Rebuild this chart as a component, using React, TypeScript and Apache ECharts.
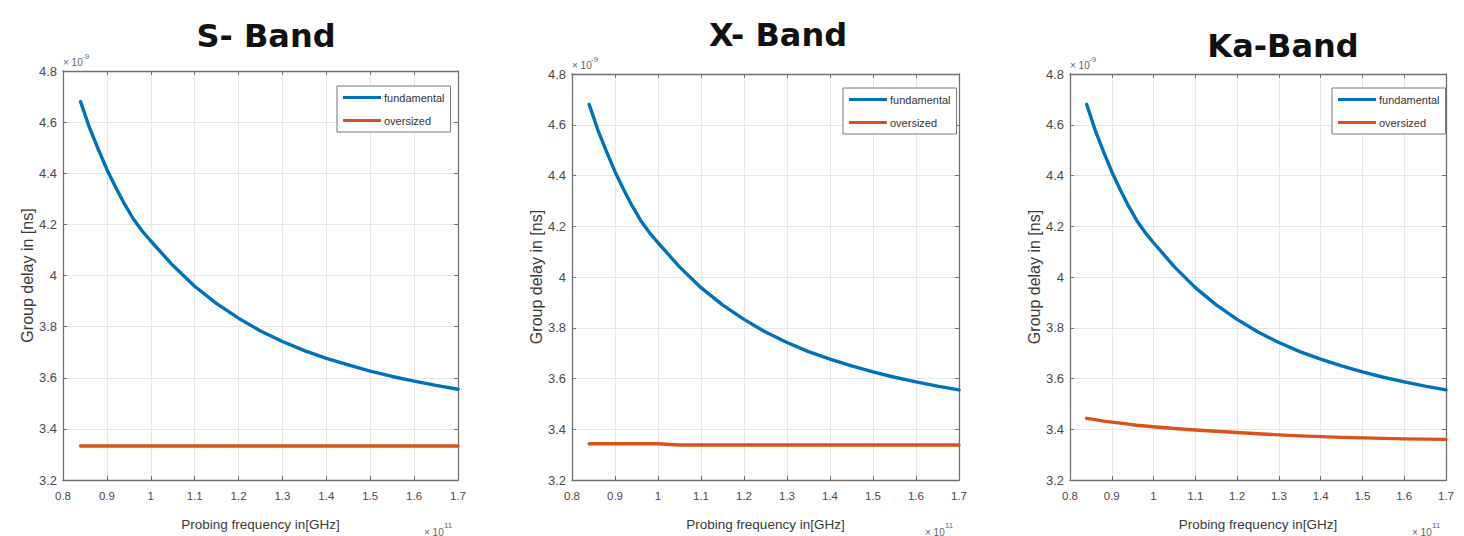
import React, { useEffect, useRef } from "react";
import * as echarts from "echarts";

// Probing frequency (×10^11 Hz)
const freqs = [0.84, 0.86, 0.88, 0.9, 0.92, 0.94, 0.96, 0.98, 1.0, 1.05, 1.1, 1.15, 1.2, 1.25, 1.3, 1.35, 1.4, 1.45, 1.5, 1.55, 1.6, 1.65, 1.7];
// Group delay (×10^-9 s)
const fundamentalS = [4.68, 4.58, 4.495, 4.415, 4.345, 4.28, 4.222, 4.175, 4.135, 4.04, 3.958, 3.89, 3.833, 3.783, 3.742, 3.706, 3.676, 3.65, 3.626, 3.605, 3.587, 3.57, 3.555];
const oversizedS = [3.333, 3.333, 3.333, 3.333, 3.333, 3.333, 3.333, 3.333, 3.333, 3.333, 3.333, 3.333, 3.333, 3.333, 3.333, 3.333, 3.333, 3.333, 3.333, 3.333, 3.333, 3.333, 3.333];
const fundamentalX = [4.68, 4.58, 4.495, 4.415, 4.345, 4.28, 4.222, 4.175, 4.135, 4.04, 3.958, 3.89, 3.833, 3.783, 3.742, 3.706, 3.676, 3.65, 3.626, 3.605, 3.587, 3.57, 3.555];
const oversizedX = [3.343, 3.343, 3.343, 3.343, 3.343, 3.343, 3.343, 3.343, 3.343, 3.338, 3.338, 3.338, 3.338, 3.338, 3.338, 3.338, 3.338, 3.338, 3.338, 3.338, 3.338, 3.338, 3.338];
const fundamentalKa = [4.68, 4.58, 4.495, 4.415, 4.345, 4.28, 4.222, 4.175, 4.135, 4.04, 3.958, 3.89, 3.833, 3.783, 3.742, 3.706, 3.676, 3.65, 3.626, 3.605, 3.587, 3.57, 3.555];
const oversizedKa = [3.443, 3.438, 3.432, 3.428, 3.424, 3.42, 3.416, 3.413, 3.41, 3.403, 3.397, 3.392, 3.387, 3.382, 3.378, 3.374, 3.371, 3.368, 3.366, 3.364, 3.362, 3.361, 3.36];

const panelTitles = ["S- Band", "X- Band", "Ka-Band"];
const seriesNames = ["fundamental", "oversized"];
const xAxisName = "Probing frequency in[GHz]";
const yAxisName = "Group delay in [ns]";

const BLUE = "#0072BD";
const ORANGE = "#D95319";
const AXIS = "#707070";
const TICKTXT = "#4a4a4a";
const NARROW = "'Liberation Sans Narrow', 'Liberation Sans', Arial, sans-serif";

const grids = [
  { left: 63, top: 71, width: 395, height: 415 },
  { left: 572, top: 74, width: 387, height: 412 },
  { left: 1070, top: 74, width: 376, height: 412 },
];
const titlePos = [
  { x: 266, y: 20 },
  { x: 778, y: 19 },
  { x: 1283, y: 30 },
];
const legendPos = [
  { left: 337, top: 86 },
  { left: 843, top: 88 },
  { left: 1332, top: 88 },
];

export default function App() {
  const ref = useRef<HTMLDivElement>(null);
  useEffect(() => {
    if (!ref.current) return;
    const chart = echarts.init(ref.current, null, { renderer: "svg" });
    const bands = [
      [fundamentalS, oversizedS],
      [fundamentalX, oversizedX],
      [fundamentalKa, oversizedKa],
    ];

    const xAxes: any[] = [];
    const yAxes: any[] = [];
    grids.forEach((_, i) => {
      xAxes.push({
        type: "value",
        gridIndex: i,
        min: 0.8,
        max: 1.7,
        interval: 0.1,
        position: "bottom",
        name: xAxisName,
        nameLocation: "middle",
        nameGap: 37,
        nameTextStyle: { fontFamily: NARROW, fontSize: 13.5, color: "#3a3a3a" },
        axisLine: { show: true, onZero: false, lineStyle: { color: AXIS, width: 1.3 } },
        axisTick: { show: true, inside: true, length: 4, lineStyle: { color: AXIS } },
        axisLabel: { margin: 10, fontFamily: NARROW, fontSize: 11.5, color: TICKTXT },
        splitLine: { show: true, lineStyle: { color: "#e6e6e6", width: 1 } },
      });
      yAxes.push({
        type: "value",
        gridIndex: i,
        min: 3.2,
        max: 4.8,
        interval: 0.2,
        position: "left",
        name: yAxisName,
        nameLocation: "middle",
        nameRotate: 90,
        nameGap: 26,
        nameTextStyle: { fontFamily: NARROW, fontSize: 16, color: "#3a3a3a" },
        axisLine: { show: true, onZero: false, lineStyle: { color: AXIS, width: 1.3 } },
        axisTick: { show: true, inside: true, length: 4, lineStyle: { color: AXIS } },
        axisLabel: { margin: 6, fontFamily: NARROW, fontSize: 13, color: TICKTXT },
        splitLine: { show: true, lineStyle: { color: "#e6e6e6", width: 1 } },
      });
    });
    grids.forEach((_, i) => {
      xAxes.push({
        type: "value",
        gridIndex: i,
        min: 0.8,
        max: 1.7,
        interval: 0.1,
        position: "top",
        axisLine: { show: true, onZero: false, lineStyle: { color: AXIS, width: 1.3 } },
        axisTick: { show: true, inside: true, length: 4, lineStyle: { color: AXIS } },
        axisLabel: { show: false },
        splitLine: { show: false },
      });
      yAxes.push({
        type: "value",
        gridIndex: i,
        min: 3.2,
        max: 4.8,
        interval: 0.2,
        position: "right",
        axisLine: { show: true, onZero: false, lineStyle: { color: AXIS, width: 1.3 } },
        axisTick: { show: true, inside: true, length: 4, lineStyle: { color: AXIS } },
        axisLabel: { show: false },
        splitLine: { show: false },
      });
    });

    const series: any[] = [];
    bands.forEach((vals, i) => {
      vals.forEach((arr, k) => {
        series.push({
          type: "line",
          name: seriesNames[k],
          xAxisIndex: i,
          yAxisIndex: i,
          data: freqs.map((f, j) => [f, arr[j]]),
          smooth: false,
          showSymbol: false,
          symbol: "none",
          lineStyle: { color: k === 0 ? BLUE : ORANGE, width: 3.4, join: "round", cap: "round" },
          itemStyle: { color: k === 0 ? BLUE : ORANGE },
          z: 3 + k,
        });
      });
    });

    const graphics: any[] = [];
    grids.forEach((g) => {
      graphics.push(
        { type: "text", x: g.left, y: g.top - 14, style: { text: "× 10", fontSize: 10, fill: "#666", fontFamily: NARROW } },
        { type: "text", x: g.left + 19, y: g.top - 19, style: { text: "-9", fontSize: 8, fill: "#666", fontFamily: NARROW } },
        { type: "text", x: g.left + g.width - 34, y: 527, style: { text: "× 10", fontSize: 10, fill: "#666", fontFamily: NARROW } },
        { type: "text", x: g.left + g.width - 14, y: 521, style: { text: "11", fontSize: 8, fill: "#666", fontFamily: NARROW } }
      );
    });

    chart.setOption({
      animation: false,
      backgroundColor: "#ffffff",
      title: panelTitles.map((t, i) => ({
        text: t,
        left: titlePos[i].x,
        top: titlePos[i].y,
        textAlign: "center",
        padding: 0,
        textStyle: { fontFamily: "'DejaVu Sans', sans-serif", fontWeight: "bold", fontSize: 32, color: "#111" },
      })),
      legend: legendPos.map((p) => ({
        data: seriesNames,
        orient: "vertical",
        left: p.left,
        top: p.top,
        icon: "rect",
        itemWidth: 38,
        itemHeight: 3,
        itemGap: 12,
        padding: [6, 6, 6, 6],
        borderColor: "#777",
        borderWidth: 1,
        backgroundColor: "#fff",
        selectedMode: false,
        textStyle: { fontFamily: NARROW, fontSize: 11, color: "#333", padding: [0, 0, 0, -2] },
      })),
      grid: grids.map((g) => ({ ...g, containLabel: false })),
      xAxis: xAxes,
      yAxis: yAxes,
      series,
      graphic: graphics,
    });
    return () => chart.dispose();
  }, []);
  return <div ref={ref} style={{ position: "fixed", left: 0, top: 0, width: 1464, height: 536 }} />;
}
